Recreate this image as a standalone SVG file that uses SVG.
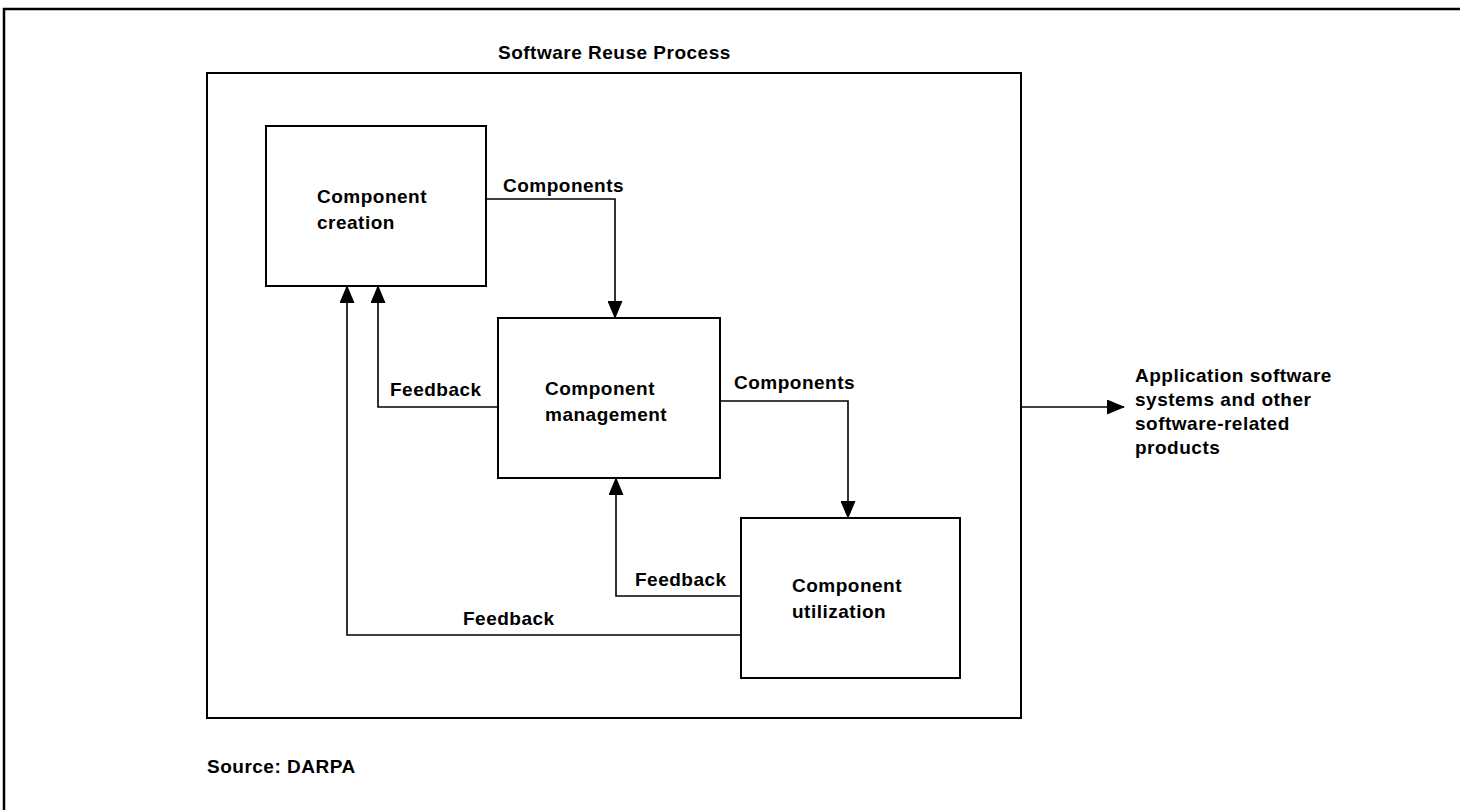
<svg xmlns="http://www.w3.org/2000/svg" width="1460" height="810" viewBox="0 0 1460 810">
<defs>
<marker id="ah" markerUnits="userSpaceOnUse" markerWidth="18" markerHeight="15" viewBox="0 0 18 15" refX="17" refY="7.5" orient="auto">
<path d="M0,0 L18,7.5 L0,15 Z" fill="#000"/>
</marker>
</defs>
<style>
text{font-family:"Liberation Sans",Arial,sans-serif;font-weight:bold;font-size:19px;letter-spacing:0.5px;fill:#000}
.box{fill:#fff;stroke:#000;stroke-width:2}
.frame{fill:none;stroke:#000;stroke-width:2.5}
.conn{fill:none;stroke:#000;stroke-width:1.6}
.arr{marker-end:url(#ah)}
</style>
<rect width="1460" height="810" fill="#fff"/>
<g id="frame">
<path class="frame" d="M4,810 L4,9 L1460,9"/>
</g>
<g id="process">
<rect class="box" x="207" y="73" width="814" height="645"/>
<text x="498" y="59">Software Reuse Process</text>
</g>
<g id="connectors">
<path class="conn arr" d="M486,199 L615,199 L615,318"/>
<path class="conn arr" d="M720,401 L848,401 L848,518"/>
<path class="conn arr" d="M498,407 L378,407 L378,286"/>
<path class="conn arr" d="M741,635 L347,635 L347,286"/>
<path class="conn arr" d="M741,596 L616,596 L616,478"/>
<path class="conn arr" d="M1021,407 L1124,407"/>
<text x="503" y="192">Components</text>
<text x="734" y="389">Components</text>
<text x="390" y="396">Feedback</text>
<text x="635" y="586">Feedback</text>
<text x="463" y="625">Feedback</text>
</g>
<g id="creation">
<rect class="box" x="266" y="126" width="220" height="160"/>
<text x="317" y="203">Component</text>
<text x="317" y="229">creation</text>
</g>
<g id="management">
<rect class="box" x="498" y="318" width="222" height="160"/>
<text x="545" y="395">Component</text>
<text x="545" y="421">management</text>
</g>
<g id="utilization">
<rect class="box" x="741" y="518" width="219" height="160"/>
<text x="792" y="592">Component</text>
<text x="792" y="618">utilization</text>
</g>
<g id="output">
<text x="1135" y="382">Application software</text>
<text x="1135" y="406">systems and other</text>
<text x="1135" y="430">software-related</text>
<text x="1135" y="454">products</text>
</g>
<g id="source">
<text x="207" y="773">Source: DARPA</text>
</g>
</svg>
